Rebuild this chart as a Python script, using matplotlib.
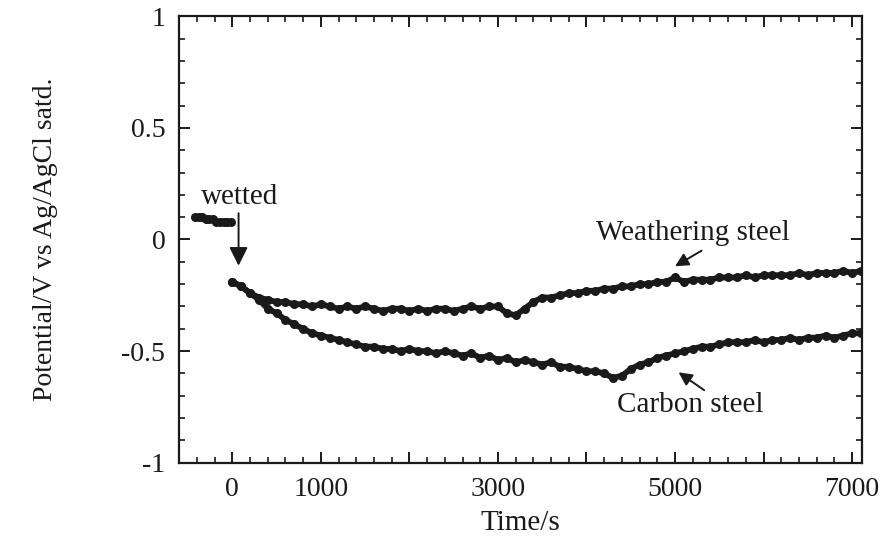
import matplotlib
matplotlib.use("Agg")
import matplotlib.pyplot as plt
from matplotlib.ticker import MultipleLocator, FixedLocator, FixedFormatter

# ── Data ─────────────────────────────────────────────────────
# before wetting (dry surface)
dry_time = [-420, -380, -340, -300, -260, -220, -180, -140, -100, -60, -20]
dry_pot = [0.10, 0.10, 0.10, 0.09, 0.09, 0.09, 0.08, 0.08, 0.08, 0.08, 0.08]

# after wetting, sampled every 100 s
time_s = list(range(0, 7200, 100))

weathering = [
    -0.19, -0.21, -0.24, -0.26, -0.27, -0.28, -0.28, -0.29, -0.29, -0.30,
    -0.29, -0.30, -0.31, -0.30, -0.31, -0.30, -0.31, -0.32, -0.31, -0.31,
    -0.32, -0.31, -0.32, -0.31, -0.31, -0.32, -0.31, -0.30, -0.31, -0.30,
    -0.30, -0.33, -0.34, -0.31, -0.28, -0.26, -0.26, -0.25, -0.24, -0.24,
    -0.23, -0.23, -0.22, -0.22, -0.21, -0.21, -0.20, -0.20, -0.19, -0.19,
    -0.17, -0.19, -0.18, -0.18, -0.18, -0.17, -0.17, -0.17, -0.16, -0.17,
    -0.16, -0.16, -0.16, -0.16, -0.15, -0.16, -0.15, -0.15, -0.15, -0.14,
    -0.15, -0.14,
]

carbon = [
    -0.19, -0.21, -0.24, -0.27, -0.31, -0.33, -0.36, -0.38, -0.40, -0.42,
    -0.43, -0.44, -0.45, -0.46, -0.47, -0.48, -0.48, -0.49, -0.49, -0.50,
    -0.49, -0.50, -0.50, -0.51, -0.50, -0.51, -0.52, -0.51, -0.53, -0.52,
    -0.54, -0.53, -0.55, -0.54, -0.55, -0.56, -0.55, -0.57, -0.57, -0.58,
    -0.59, -0.59, -0.60, -0.62, -0.61, -0.58, -0.56, -0.55, -0.53, -0.52,
    -0.51, -0.50, -0.49, -0.48, -0.48, -0.47, -0.46, -0.46, -0.46, -0.45,
    -0.46, -0.45, -0.45, -0.44, -0.45, -0.44, -0.44, -0.43, -0.44, -0.43,
    -0.42, -0.42,
]

x_major = [0, 1000, 2000, 3000, 4000, 5000, 6000, 7000]
x_labels = ["0", "1000", "", "3000", "", "5000", "", "7000"]
y_major = [-1, -0.5, 0, 0.5, 1]
y_labels = ["-1", "-0.5", "0", "0.5", "1"]

# ── Plot ─────────────────────────────────────────────────────
plt.rcParams["font.family"] = ["Liberation Serif", "DejaVu Serif"]
ink = "#1a1a1a"

fig = plt.figure(figsize=(8.83, 5.40), dpi=100)
ax = fig.add_axes([0.203, 0.143, 0.773, 0.827])

style = dict(color=ink, marker="o", markersize=6.5, linewidth=4.2,
             markeredgewidth=0)
ax.plot(dry_time, dry_pot, **style)
ax.plot(time_s, weathering, **style)
ax.plot(time_s, carbon, **style)

ax.set_xlim(-600, 7110)
ax.set_ylim(-1, 1)

ax.xaxis.set_major_locator(FixedLocator(x_major))
ax.xaxis.set_major_formatter(FixedFormatter(x_labels))
ax.xaxis.set_minor_locator(MultipleLocator(200))
ax.yaxis.set_major_locator(FixedLocator(y_major))
ax.yaxis.set_major_formatter(FixedFormatter(y_labels))
ax.yaxis.set_minor_locator(MultipleLocator(0.1))

ax.tick_params(which="both", direction="in", top=True, right=True,
               colors=ink, labelsize=20)
ax.tick_params(which="major", length=8, width=1.4)
ax.tick_params(which="minor", length=4, width=1.2)
ax.tick_params(axis="x", pad=10)
ax.tick_params(axis="y", pad=10)
for sp in ax.spines.values():
    sp.set_linewidth(1.6)
    sp.set_color(ink)

ax.set_xlabel("Time/s", fontsize=21, color=ink, labelpad=6)
ax.set_ylabel("Potential/V vs Ag/AgCl satd.", fontsize=20, color=ink,
              labelpad=46)

# annotations
arrow = dict(arrowstyle="-|>", color=ink, lw=1.4, mutation_scale=28)
ax.text(-360, 0.19, "wetted", fontsize=21, color=ink, va="center", ha="left")
ax.annotate("", xy=(70, -0.13), xytext=(70, 0.13), arrowprops=arrow)

short = dict(arrowstyle="-|>", color=ink, lw=1.4, mutation_scale=20,
             shrinkA=0, shrinkB=0)
ax.text(5200, 0.03, "Weathering steel", fontsize=21, color=ink,
        ha="center", va="center")
ax.annotate("", xy=(5000, -0.12), xytext=(5300, -0.05), arrowprops=short)

ax.text(5170, -0.74, "Carbon steel", fontsize=21, color=ink,
        ha="center", va="center")
ax.annotate("", xy=(5040, -0.595), xytext=(5330, -0.675), arrowprops=short)

fig.savefig("out.png", dpi=100)
